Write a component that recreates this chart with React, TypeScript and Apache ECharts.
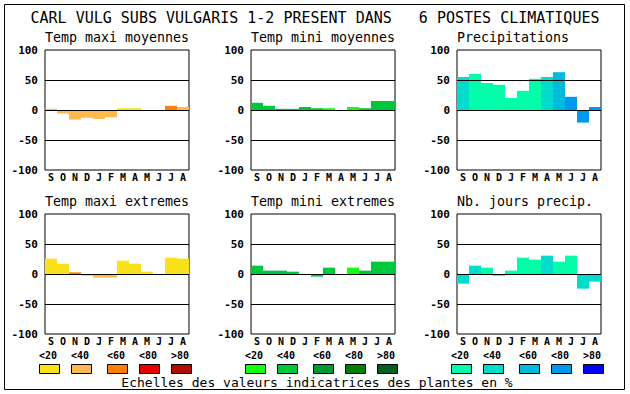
import React, { useEffect, useRef } from "react";
import * as echarts from "echarts";

const TITLE = "CARL VULG SUBS VULGARIS 1-2 PRESENT DANS   6 POSTES CLIMATIQUES";
const FOOTER = "Echelles des valeurs indicatrices des plantes en %";
const MONTHS = ["S", "O", "N", "D", "J", "F", "M", "A", "M", "J", "J", "A"];
const PANEL_TITLES = [
  "Temp maxi moyennes",
  "Temp mini moyennes",
  "Precipitations",
  "Temp maxi extremes",
  "Temp mini extremes",
  "Nb. jours precip.",
];
const Y_MIN = -100;
const Y_MAX = 100;
const Y_STEP = 50;
const GUIDE_LINES = [50, 0, -50];
const LEGEND_LABELS = ["<20", "<40", "<60", "<80", ">80"];

// colour palettes (classes <20 .. >80)
const PAL_TMAX = ["#f9e21a", "#ffb950", "#ff7f00", "#e80000", "#b00c00"];
const PAL_TMIN = ["#12ff12", "#00c83c", "#009a30", "#008000", "#006020"];
const PAL_PREC = ["#00ffaa", "#00ddcc", "#00bbdd", "#0099ee", "#0000ff"];

// values per month (S..A) and colour class per month
const TMAX_MOY = [2, -6, -16, -13, -15, -12, 3, 3, 0, 0, 7, 5];
const TMAX_MOY_CLS = [1, 1, 1, 1, 1, 1, 0, 0, 0, 0, 2, 1];
const TMIN_MOY = [12, 7, 2, 2, 5, 3, 3, 0, 5, 3, 15, 15];
const TMIN_MOY_CLS = [1, 1, 1, 1, 1, 1, 0, 0, 0, 1, 1, 1];
const PREC = [55, 60, 45, 42, 20, 32, 52, 55, 63, 22, -21, 5];
const PREC_CLS = [1, 0, 0, 0, 0, 0, 0, 1, 2, 3, 3, 3];
const TMAX_EXT = [25.6, 17.2, 2.8, -2.8, -6.1, -6.1, 22.2, 17.2, 3.9, 0, 27.2, 25.6];
const TMAX_EXT_CLS = [0, 0, 2, 1, 1, 1, 0, 0, 0, 0, 0, 0];
const TMIN_EXT = [13.9, 5.6, 5.6, 3.9, 0, -4.4, 10.6, 0, 10.6, 5.6, 20.6, 20.6];
const TMIN_EXT_CLS = [1, 1, 1, 1, 1, 1, 1, 1, 0, 1, 1, 1];
const JOURS = [-16.1, 13.9, 10.6, -2.8, 5.6, 27.2, 23.9, 30.6, 20.6, 30.6, -24.4, -12.8];
const JOURS_CLS = [1, 1, 0, 1, 0, 0, 0, 1, 0, 0, 1, 1];

const PANELS = [
  { values: TMAX_MOY, cls: TMAX_MOY_CLS, pal: PAL_TMAX },
  { values: TMIN_MOY, cls: TMIN_MOY_CLS, pal: PAL_TMIN },
  { values: PREC, cls: PREC_CLS, pal: PAL_PREC },
  { values: TMAX_EXT, cls: TMAX_EXT_CLS, pal: PAL_TMAX },
  { values: TMIN_EXT, cls: TMIN_EXT_CLS, pal: PAL_TMIN },
  { values: JOURS, cls: JOURS_CLS, pal: PAL_PREC },
];
const LEGEND_PALS = [PAL_TMAX, PAL_TMIN, PAL_PREC];

const MONO = "'DejaVu Sans Mono', 'Liberation Mono', monospace";

export default function App() {
  const ref = useRef<HTMLDivElement>(null);

  useEffect(() => {
    if (!ref.current) return;
    const chart = echarts.init(ref.current, undefined, { renderer: "svg" });

    const colLeft = [45, 251, 457];
    const rowTop = [50, 214];
    const plotW = 144;
    const plotH = 120;

    const grids: any[] = [];
    const xAxes: any[] = [];
    const yAxes: any[] = [];
    const series: any[] = [];
    const graphics: any[] = [];

    PANELS.forEach((p, i) => {
      const col = i % 3;
      const row = Math.floor(i / 3);
      grids.push({
        left: colLeft[col],
        top: rowTop[row],
        width: plotW,
        height: plotH,
        show: true,
        borderColor: "#000",
        borderWidth: 1,
        backgroundColor: "#fff",
      });
      xAxes.push({
        type: "category",
        gridIndex: i,
        data: MONTHS,
        boundaryGap: true,
        axisLine: { show: false },
        axisTick: { show: false },
        splitLine: { show: false },
        axisLabel: {
          interval: 0,
          margin: 2,
          color: "#000",
          fontFamily: MONO,
          fontWeight: "bold",
          fontSize: 10,
          lineHeight: 10,
        },
      });
      yAxes.push({
        type: "value",
        gridIndex: i,
        min: Y_MIN,
        max: Y_MAX,
        interval: Y_STEP,
        axisLine: { show: false },
        axisTick: { show: false },
        splitLine: { show: false },
        axisLabel: {
          margin: 7,
          color: "#000",
          fontFamily: MONO,
          fontWeight: "bold",
          fontSize: 11,
        },
      });
      series.push({
        type: "bar",
        xAxisIndex: i,
        yAxisIndex: i,
        barCategoryGap: "0%",
        data: p.values.map((v, k) => ({
          value: v,
          itemStyle: { color: p.pal[p.cls[k]] },
        })),
        markLine: {
          silent: true,
          symbol: ["none", "none"],
          label: { show: false },
          lineStyle: { color: "#000", width: 1, type: "solid" },
          emphasis: { disabled: true },
          data: GUIDE_LINES.map((y) => ({ yAxis: y })),
        },
      });
      graphics.push({
        type: "text",
        left: colLeft[col],
        top: rowTop[row] - 19,
        style: {
          text: PANEL_TITLES[i],
          font: `13.3px ${MONO}`,
          fill: "#000",
        },
      });
    });

    // legend boxes
    const boxX = [39, 71, 107, 139, 171];
    LEGEND_PALS.forEach((pal, g) => {
      const off = g * 206;
      pal.forEach((c, k) => {
        graphics.push({
          type: "rect",
          shape: { x: boxX[k] + off + 0.5, y: 364.5, width: 20, height: 9 },
          style: { fill: c, stroke: "#000", lineWidth: 1 },
        });
        graphics.push({
          type: "text",
          x: boxX[k] + off + 9,
          y: 355,
          style: {
            text: LEGEND_LABELS[k],
            font: `bold 10px ${MONO}`,
            lineHeight: 10,
            fill: "#000",
            align: "center",
            verticalAlign: "middle",
          },
        });
      });
    });

    graphics.push({
      type: "text",
      x: 315,
      y: 18,
      style: {
        text: TITLE,
        font: `15px ${MONO}`,
        fill: "#000",
        align: "center",
        verticalAlign: "middle",
      },
    });
    graphics.push({
      type: "text",
      x: 317,
      y: 382,
      style: {
        text: FOOTER,
        font: `13px ${MONO}`,
        fill: "#000",
        align: "center",
        verticalAlign: "middle",
      },
    });
    graphics.push({
      type: "rect",
      shape: { x: 4.5, y: 4.5, width: 620, height: 385 },
      style: { fill: "none", stroke: "#000", lineWidth: 1 },
      z: 100,
    });

    chart.setOption({
      animation: false,
      backgroundColor: "#fff",
      grid: grids,
      xAxis: xAxes,
      yAxis: yAxes,
      series,
      graphic: graphics,
    });

    return () => chart.dispose();
  }, []);

  return (
    <div
      ref={ref}
      style={{
        position: "absolute",
        left: 0,
        top: 0,
        width: 630,
        height: 394,
        background: "#fff",
      }}
    />
  );
}
